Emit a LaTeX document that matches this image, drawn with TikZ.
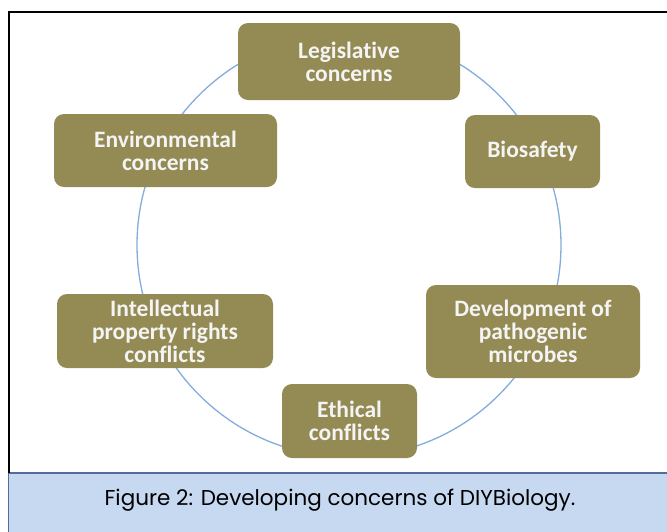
\documentclass[tikz,border=0pt]{standalone}
\usepackage{fontspec}
\setmainfont[Ligatures=NoCommon]{Carlito}
\newfontfamily\capfont{Poppins}
\definecolor{olive}{HTML}{948A54}
\definecolor{boxtext}{HTML}{F4F4F4}
\definecolor{ringblue}{HTML}{84ACDC}
\definecolor{capfill}{HTML}{C6D9F1}
\definecolor{capline}{HTML}{4F6E9E}
\tikzset{
  concern/.style={fill=olive, rounded corners=10pt, inner sep=0pt, align=center,
    text=boxtext, font=\fontsize{23.5}{23}\selectfont\bfseries},
  ring/.style={draw=ringblue, line width=1.3pt}
}
\begin{document}
\begin{tikzpicture}[x=1pt,y=-1pt]
\useasboundingbox (0,0) rectangle (667,531);
\fill[white] (0,0) rectangle (667,531);
% caption band
\draw[fill=capfill, draw=capline, line width=1.5pt] (8.5,473) rectangle (675,540);
\node[font=\capfont\fontsize{21.5}{24}\selectfont, text=black] (cap) at (340,500) {Figure 2: Developing concerns of DIYBiology.};
% frame
\draw[line width=2pt, black] (8.5,473) -- (8.5,11.5) -- (675,11.5);
% ring
\coordinate (ctr) at (349,245);
\draw[ring] (ctr) circle (212);
% boxes
\node[concern, minimum width=222, minimum height=77] (leg) at (349,61.5) {Legislative\\concerns};
\node[concern, minimum width=223, minimum height=73] (env) at (165.5,150.5) {Environmental\\concerns};
\node[concern, minimum width=135, minimum height=73] (bio) at (532.5,151.5) {Biosafety};
\node[concern, minimum width=216, minimum height=74] (ip) at (165,331) {Intellectual\\property rights\\conflicts};
\node[concern, minimum width=214, minimum height=93] (dev) at (533,331.5) {Development of\\pathogenic\\microbes};
\node[concern, minimum width=135, minimum height=74] (eth) at (349.5,421) {Ethical\\conflicts};
\end{tikzpicture}
\end{document}
